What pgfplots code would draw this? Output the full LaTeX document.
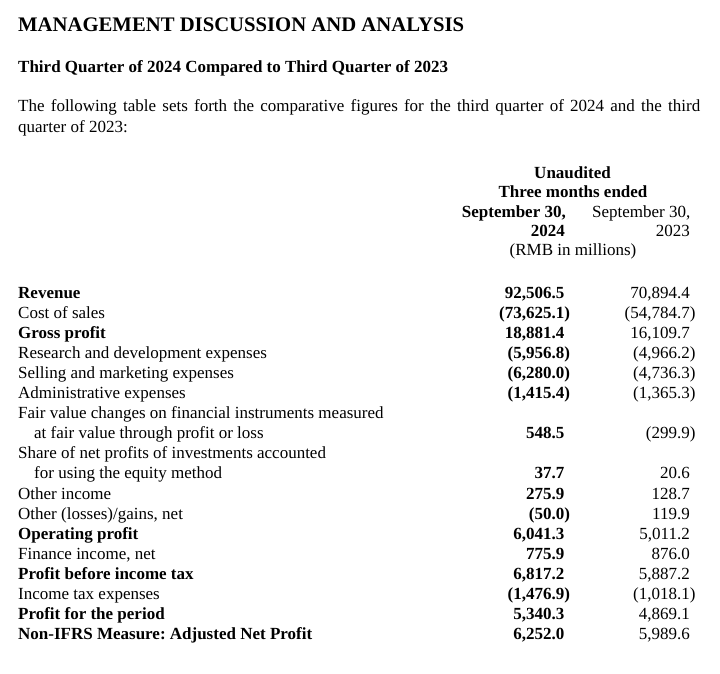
\documentclass[border=0pt]{standalone}
\usepackage{fontspec}
\setmainfont{Liberation Serif}
\usepackage{pgfplots}
\pgfplotsset{compat=1.18}
\usepackage{pgfplotstable}
\usepgflibrary{fpu}

% row index, value (RMB in millions); negatives shown in parentheses
\pgfplotstableread{
row value
0 92506.5
1 -73625.1
2 18881.4
3 -5956.8
4 -6280.0
5 -1415.4
7 548.5
9 37.7
10 275.9
11 -50.0
12 6041.3
13 775.9
14 6817.2
15 -1476.9
16 5340.3
17 6252.0
}\qthree

\pgfplotstableread{
row value
0 70894.4
1 -54784.7
2 16109.7
3 -4966.2
4 -4736.3
5 -1365.3
7 -299.9
9 20.6
10 128.7
11 119.9
12 5011.2
13 876.0
14 5887.2
15 -1018.1
16 4869.1
17 5989.6
}\qthreeprev

\newcommand\finnum{%
  \pgfmathfloatifflags{\pgfplotspointmeta}{2}%
    {\pgfkeys{/pgf/fpu=true}\pgfmathparse{abs(\pgfplotspointmeta)}(\pgfmathprintnumber{\pgfmathresult}\rlap{)}}%
    {\pgfmathprintnumber{\pgfplotspointmeta}}}

\newcommand\bodyfont{\fontsize{17}{20}\selectfont}

\begin{document}
\frenchspacing
\begin{tikzpicture}[
  lab/.style={anchor=base west,inner sep=0pt,font=\bodyfont},
  labb/.style={anchor=base west,inner sep=0pt,font=\bodyfont\bfseries},
]
\begin{axis}[
  width=720pt,height=674pt,scale only axis,
  xmin=0,xmax=720,ymin=0,ymax=674,y dir=reverse,
  hide axis,clip=false,
  /pgf/number format/fixed,
  /pgf/number format/fixed zerofill,
  /pgf/number format/precision=1,
  /pgf/number format/1000 sep={,},
  /pgf/number format/assume math mode=true,
]
\addplot[draw=none,mark=none] coordinates {(0,0) (720,674)};

% Title block
\node[anchor=base west,inner sep=0pt,font=\fontsize{20.7}{24}\selectfont\bfseries] at (axis cs:18,32) {MANAGEMENT DISCUSSION AND ANALYSIS};
\node[labb] at (axis cs:18,73) {Third Quarter of 2024 Compared to Third Quarter of 2023};
\node[lab] at (axis cs:18,112) {\makebox[682pt][s]{The following table sets forth the comparative figures for the third quarter of 2024 and the third}};
\node[lab] at (axis cs:18,132) {quarter of 2023:};

% Column header
\node[anchor=base,inner sep=0pt,font=\bodyfont\bfseries] at (axis cs:572.5,178) {Unaudited};
\node[anchor=base,inner sep=0pt,font=\bodyfont\bfseries] at (axis cs:573,197.5) {Three months ended};
\node[anchor=base east,inner sep=0pt,font=\bodyfont\bfseries] at (axis cs:566,217.5) {September 30,};
\node[anchor=base east,inner sep=0pt,font=\bodyfont\bfseries] at (axis cs:565,236.5) {2024};
\node[anchor=base east,inner sep=0pt,font=\bodyfont] at (axis cs:690.5,217.5) {September 30,};
\node[anchor=base east,inner sep=0pt,font=\bodyfont] at (axis cs:690,236.5) {2023};
\node[anchor=base,inner sep=0pt,font=\bodyfont] at (axis cs:573,255.5) {(RMB in millions)};

% Row labels
\node[labb] at (axis cs:18,298) {Revenue};
\node[lab] at (axis cs:18,318.1) {Cost of sales};
\node[labb] at (axis cs:18,338.2) {Gross profit};
\node[lab] at (axis cs:18,358.3) {Research and development expenses};
\node[lab] at (axis cs:18,378.4) {Selling and marketing expenses};
\node[lab] at (axis cs:18,398.5) {Administrative expenses};
\node[lab] at (axis cs:18,418.6) {Fair value changes on financial instruments measured};
\node[lab] at (axis cs:34,438.7) {at fair value through profit or loss};
\node[lab] at (axis cs:18,458.8) {Share of net profits of investments accounted};
\node[lab] at (axis cs:34,478.9) {for using the equity method};
\node[lab] at (axis cs:18,499) {Other income};
\node[lab] at (axis cs:18,519.1) {Other (losses)/gains, net};
\node[labb] at (axis cs:18,539.2) {Operating profit};
\node[lab] at (axis cs:18,559.3) {Finance income, net};
\node[labb] at (axis cs:18,579.4) {Profit before income tax};
\node[lab] at (axis cs:18,599.5) {Income tax expenses};
\node[labb] at (axis cs:18,619.6) {Profit for the period};
\node[labb] at (axis cs:18,639.7) {Non-IFRS Measure: Adjusted Net Profit};

% Values
\addplot[draw=none,mark=none,point meta=explicit,
  nodes near coords={\finnum},
  every node near coord/.append style={anchor=base east,inner sep=0pt,font=\bodyfont\bfseries}]
  table[x expr=564.5,y expr=298+20.1*\thisrow{row},meta=value]{\qthree};
\addplot[draw=none,mark=none,point meta=explicit,
  nodes near coords={\finnum},
  every node near coord/.append style={anchor=base east,inner sep=0pt,font=\bodyfont}]
  table[x expr=690,y expr=298+20.1*\thisrow{row},meta=value]{\qthreeprev};
\end{axis}
\end{tikzpicture}
\end{document}
